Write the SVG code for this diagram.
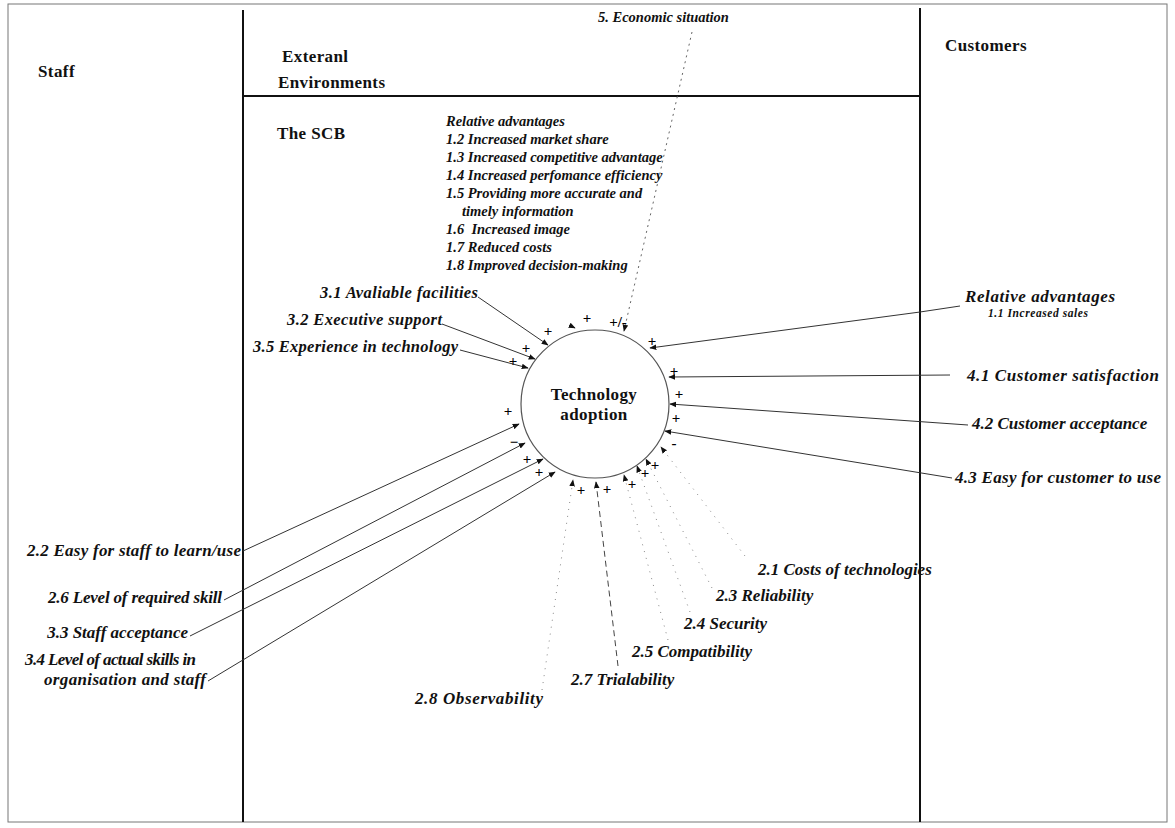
<svg xmlns="http://www.w3.org/2000/svg" width="1175" height="828" viewBox="0 0 1175 828">
<style>
  .bg{fill:#fff}
  .frame{fill:none;stroke:#777;stroke-width:1}
  .lane{stroke:#111;stroke-width:2;fill:none}
  .hd{font-family:"Liberation Serif","Times New Roman",serif;font-weight:bold;font-size:17px;letter-spacing:0.4px;fill:#111}
  .lb{font-family:"Liberation Serif","Times New Roman",serif;font-weight:bold;font-style:italic;font-size:17px;fill:#111}
  .mid{font-family:"Liberation Serif","Times New Roman",serif;font-weight:bold;font-style:italic;font-size:16.5px;fill:#111}
  .sm{font-family:"Liberation Serif","Times New Roman",serif;font-weight:bold;font-style:italic;font-size:14.5px;fill:#111}
  .xs{font-family:"Liberation Serif","Times New Roman",serif;font-weight:bold;font-style:italic;font-size:11.5px;fill:#111}
  .sg{font-family:"Liberation Serif","Times New Roman",serif;font-weight:bold;font-size:15px;fill:#000;text-anchor:middle}
  .c{fill:none;stroke:#333;stroke-width:1}
  .dot{fill:none;stroke:#888;stroke-width:1;stroke-dasharray:1 6}
  .dash{fill:none;stroke:#444;stroke-width:1;stroke-dasharray:6 4}
  .econ{fill:none;stroke:#666;stroke-width:1;stroke-dasharray:2 4}
</style>
<defs>
  <marker id="ah" viewBox="0 0 10 10" refX="9" refY="5" markerWidth="7" markerHeight="7" orient="auto" markerUnits="userSpaceOnUse">
    <path d="M0,1 L10,5 L0,9 z" fill="#111"/>
  </marker>
</defs>
<rect class="bg" x="0" y="0" width="1175" height="828"/>

<g id="lanes">
  <rect class="frame" x="8" y="4" width="1159" height="818"/>
  <line class="lane" x1="243" y1="10" x2="243" y2="822"/>
  <line class="lane" x1="920" y1="8" x2="920" y2="822"/>
  <line class="lane" x1="243" y1="96" x2="920" y2="96" stroke-width="1.5"/>
  <text class="hd" x="38" y="77">Staff</text>
  <text class="hd" x="282" y="62">Exteranl</text>
  <text class="hd" x="278" y="88">Environments</text>
  <text class="hd" x="945" y="51">Customers</text>
  <text class="hd" x="277" y="139">The SCB</text>
</g>

<g id="connectors">
  <path class="c" d="M478,297 L548,345" marker-end="url(#ah)"/>
  <path class="c" d="M442,324 L535,359" marker-end="url(#ah)"/>
  <path class="c" d="M460,350 L528,368" marker-end="url(#ah)"/>
  <path class="c" d="M569,325 L575,328" marker-end="url(#ah)"/>
  <path class="econ" d="M692,32 L624,331" marker-end="url(#ah)"/>
  <path class="c" d="M960,306 L920,312 L650,348" marker-end="url(#ah)"/>
  <path class="c" d="M950,375 L669,377" marker-end="url(#ah)"/>
  <path class="c" d="M968,425 L670,404" marker-end="url(#ah)"/>
  <path class="c" d="M952,478 L665,431" marker-end="url(#ah)"/>
  <path class="dot" d="M745,556 L661,447" marker-end="url(#ah)"/>
  <path class="dot" d="M712,588 L646,459" marker-end="url(#ah)"/>
  <path class="dot" d="M690,612 L637,466" marker-end="url(#ah)"/>
  <path class="dot" d="M668,640 L624,475" marker-end="url(#ah)"/>
  <path class="dash" d="M618,666 L596,482" marker-end="url(#ah)"/>
  <path class="dot" d="M542,690 L573,480" marker-end="url(#ah)"/>
  <path class="c" d="M243,551 L519,424" marker-end="url(#ah)"/>
  <path class="c" d="M224,600 L525,443" marker-end="url(#ah)"/>
  <path class="c" d="M190,636 L543,459" marker-end="url(#ah)"/>
  <path class="c" d="M208,681 L555,472" marker-end="url(#ah)"/>
</g>

<g id="technology-adoption">
  <circle cx="595" cy="404" r="74" fill="none" stroke="#555" stroke-width="1.2"/>
  <text class="hd" x="594" y="400" font-size="14" letter-spacing="0" text-anchor="middle">Technology</text>
  <text class="hd" x="594" y="420" font-size="14" letter-spacing="0" text-anchor="middle">adoption</text>
</g>

<g id="signs">
  <text class="sg" x="548" y="336">+</text>
  <text class="sg" x="587" y="323">+</text>
  <text class="sg" x="618" y="327">+/-</text>
  <text class="sg" x="652" y="346">+</text>
  <text class="sg" x="526" y="353">+</text>
  <text class="sg" x="513" y="366">+</text>
  <text class="sg" x="508" y="416">+</text>
  <text class="sg" x="514" y="447">−</text>
  <text class="sg" x="527" y="464">+</text>
  <text class="sg" x="539" y="477">+</text>
  <text class="sg" x="581" y="495">+</text>
  <text class="sg" x="607" y="494">+</text>
  <text class="sg" x="632" y="489">+</text>
  <text class="sg" x="645" y="478">+</text>
  <text class="sg" x="655" y="470">+</text>
  <text class="sg" x="674" y="376">+</text>
  <text class="sg" x="679" y="399">+</text>
  <text class="sg" x="676" y="423">+</text>
  <text class="sg" x="674" y="448">-</text>
</g>

<g id="relative-advantages-scb">
  <text class="sm" x="446" y="126">Relative advantages</text>
  <text class="sm" x="446" y="144">1.2 Increased market share</text>
  <text class="sm" x="446" y="162">1.3 Increased competitive advantage</text>
  <text class="sm" x="446" y="180">1.4 Increased perfomance efficiency</text>
  <text class="sm" x="446" y="198">1.5 Providing more accurate and</text>
  <text class="sm" x="462" y="216">timely information</text>
  <text class="sm" x="446" y="234" xml:space="preserve">1.6  Increased image</text>
  <text class="sm" x="446" y="252">1.7 Reduced costs</text>
  <text class="sm" x="446" y="270">1.8 Improved decision-making</text>
</g>

<g id="economic-situation"><text class="sm" x="598" y="22" font-size="13.5">5. Economic situation</text></g>
<g id="f3-1"><text class="mid" x="320" y="298" textLength="158">3.1 Avaliable facilities</text></g>
<g id="f3-2"><text class="mid" x="287" y="325" textLength="155">3.2 Executive support</text></g>
<g id="f3-5"><text class="mid" x="253" y="352" textLength="205">3.5 Experience in technology</text></g>

<g id="relative-advantages-customers">
  <text class="lb" x="965" y="302" font-size="17.5" textLength="150">Relative advantages</text>
  <text class="xs" x="988" y="317" textLength="100">1.1 Increased sales</text>
</g>
<g id="f4-1"><text class="lb" x="967" y="381" font-size="17.5" textLength="192">4.1 Customer satisfaction</text></g>
<g id="f4-2"><text class="lb" x="972" y="429" font-size="17.5">4.2 Customer acceptance</text></g>
<g id="f4-3"><text class="lb" x="955" y="483" font-size="17.5" textLength="206">4.3 Easy for customer to use</text></g>

<g id="f2-1"><text class="lb" x="758" y="575">2.1 Costs of technologies</text></g>
<g id="f2-3"><text class="lb" x="716" y="601">2.3 Reliability</text></g>
<g id="f2-4"><text class="lb" x="684" y="629">2.4 Security</text></g>
<g id="f2-5"><text class="lb" x="632" y="657">2.5 Compatibility</text></g>
<g id="f2-7"><text class="lb" x="571" y="685">2.7 Trialability</text></g>
<g id="f2-8"><text class="lb" x="415" y="704" textLength="128">2.8 Observability</text></g>

<g id="f2-2"><text class="lb" x="27" y="556" textLength="214">2.2 Easy for staff to learn/use</text></g>
<g id="f2-6"><text class="lb" x="48" y="603" textLength="174">2.6 Level of required skill</text></g>
<g id="f3-3"><text class="lb" x="188" y="638" font-size="15.5" text-anchor="end">3.3 Staff acceptance</text></g>
<g id="f3-4">
  <text class="lb" x="25" y="665" font-size="16" textLength="171">3.4 Level of actual skills in</text>
  <text class="lb" x="44" y="685" textLength="162">organisation and staff</text>
</g>
</svg>
